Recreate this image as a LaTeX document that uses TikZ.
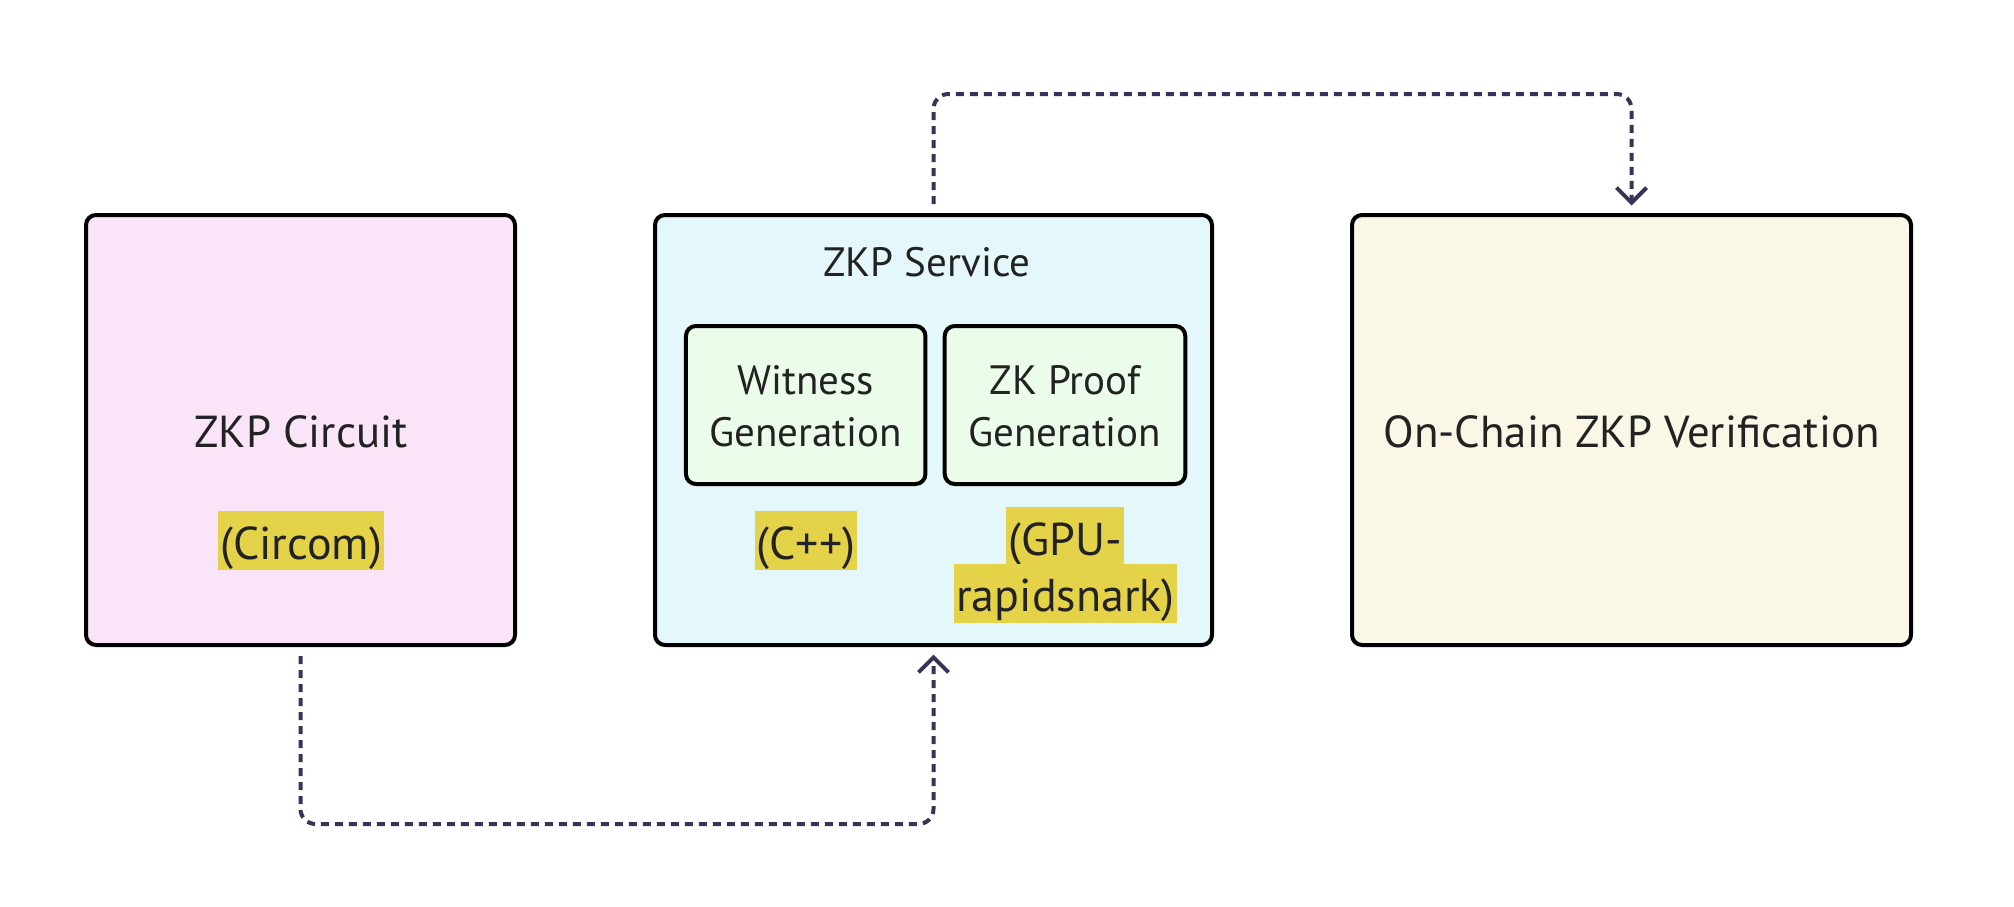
\documentclass[tikz,border=0pt]{standalone}
\usepackage{fontspec}
\setmainfont{PT Sans}
\usetikzlibrary{arrows.meta}
\definecolor{pinkf}{RGB}{250,229,248}
\definecolor{cyanf}{RGB}{228,247,251}
\definecolor{greenf}{RGB}{235,252,235}
\definecolor{creamf}{RGB}{250,247,230}
\definecolor{hly}{RGB}{228,210,72}
\definecolor{conncol}{RGB}{56,52,88}
\definecolor{txt}{RGB}{34,34,34}
\begin{document}
\begin{tikzpicture}[x=0.5pt,y=-0.5pt,
  box/.style={draw=black, line width=2pt, rounded corners=5pt, inner sep=0pt, outer sep=0pt},
  lbl/.style={text=txt, inner sep=0pt, anchor=base, font=\fontsize{22.4}{27}\selectfont},
  sub/.style={text=txt, inner sep=0pt, anchor=base, font=\fontsize{20.5}{24}\selectfont},
  hl/.style={fill=hly, text=txt, inner xsep=1pt, inner ysep=0pt, text height=24pt, text depth=5.5pt, anchor=base, font=\fontsize{23}{28}\selectfont},
  conn/.style={draw=conncol, line width=2pt, dash pattern=on 4pt off 3pt, rounded corners=7.5pt,
    -{Straight Barb[length=7.5pt,width=15pt]}, shorten <=5.5pt, shorten >=4.75pt}
]
\useasboundingbox[fill=white] (0,0) rectangle (2014,906);

\node[box, fill=pinkf, minimum width=214.5pt, minimum height=215pt] (circuit) at (300.5,430) {};
\node[box, fill=cyanf, minimum width=278.5pt, minimum height=215pt] (service) at (933.5,430) {};
\node[box, fill=creamf, minimum width=279.5pt, minimum height=215pt] (onchain) at (1631.5,430) {};
\node[box, fill=greenf, minimum width=119.75pt, minimum height=79pt] (witness) at (805.7,405) {};
\node[box, fill=greenf, minimum width=120.3pt, minimum height=79pt] (proof) at (1065,405) {};

\node[lbl] (tcircuit) at (301,447) {ZKP Circuit};
\node[lbl] (tonchain) at (1631.5,447) {On-Chain ZKP Verification};
\node[sub] (tservice) at (927,276) {ZKP Service};
\node[sub] (twit1) at (805.7,394) {Witness};
\node[sub] (twit2) at (805.7,446) {Generation};
\node[sub] (tproof1) at (1065,394) {ZK Proof};
\node[sub] (tproof2) at (1065,446) {Generation};

\node[hl] (hcircom) at (301,559) {(Circom)};
\node[hl] (hcpp) at (806,559) {(C++)};
\node[hl] (hgpu1) at (1065,555) {(GPU-};
\node[hl] (hgpu2) at (1065.5,611.7) {rapidsnark)};

\coordinate (topy) at (0,94);
\coordinate (boty) at (0,824);
\draw[conn] (service.north) -- (service.north |- topy) -| (onchain.north);
\draw[conn] (circuit.south) -- (circuit.south |- boty) -| (service.south);
\end{tikzpicture}
\end{document}
